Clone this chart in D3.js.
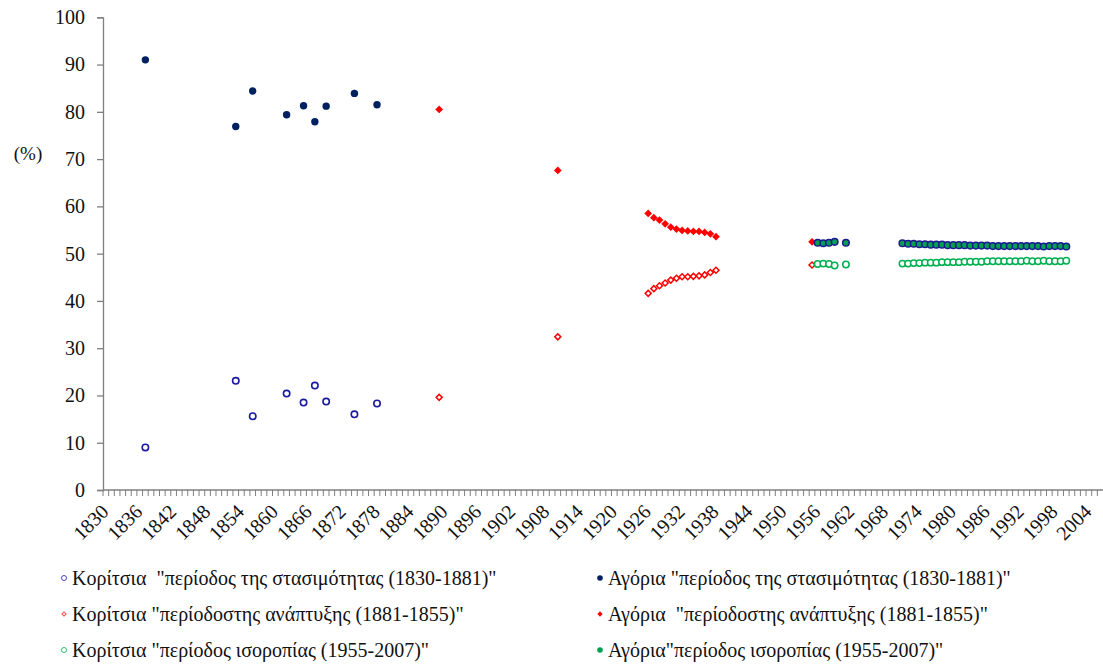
<!DOCTYPE html>
<html>
<head>
<meta charset="utf-8">
<script src="https://cdn.jsdelivr.net/npm/d3@7"></script>
</head>
<body style="margin:0;padding:0;background:#fff;overflow:hidden">
<svg id="chart" width="1103" height="670" style="display:block"></svg>
<script>
// ---------- data ----------
const stasisYears = [1837, 1853, 1856, 1862, 1865, 1867, 1869, 1874, 1878];
const stasisBoys  = [91.0, 76.9, 84.4, 79.4, 81.3, 77.9, 81.2, 83.9, 81.5];
const stasisGirls = [9.0, 23.1, 15.6, 20.4, 18.5, 22.1, 18.7, 16.0, 18.3];

const devYears = [1889, 1910, 1926, 1927, 1928, 1929, 1930, 1931, 1932, 1933, 1934, 1935, 1936, 1937, 1938, 1955];
const devBoys  = [80.5, 67.6, 58.5, 57.6, 57.1, 56.3, 55.6, 55.2, 54.9, 54.8, 54.7, 54.7, 54.5, 54.2, 53.6, 52.5];
const devGirls = [19.6, 32.4, 41.6, 42.6, 43.2, 43.8, 44.4, 44.8, 45.1, 45.1, 45.2, 45.3, 45.5, 46.0, 46.5, 47.6];

const balYears = [1956, 1957, 1958, 1959, 1961,
  1971, 1972, 1973, 1974, 1975, 1976, 1977, 1978, 1979, 1980,
  1981, 1982, 1983, 1984, 1985, 1986, 1987, 1988, 1989, 1990,
  1991, 1992, 1993, 1994, 1995, 1996, 1997, 1998, 1999, 2000];
const balBoys = [52.3, 52.2, 52.3, 52.5, 52.3,
  52.2, 52.1, 52.1, 52.0, 52.0, 51.9, 51.9, 51.9, 51.8, 51.8,
  51.8, 51.8, 51.7, 51.7, 51.7, 51.7, 51.6, 51.6, 51.6, 51.6,
  51.6, 51.6, 51.6, 51.6, 51.6, 51.5, 51.6, 51.6, 51.6, 51.5];
const balGirls = [47.8, 47.9, 47.8, 47.5, 47.7,
  47.9, 47.9, 48.0, 48.0, 48.1, 48.1, 48.1, 48.2, 48.2, 48.2,
  48.2, 48.3, 48.3, 48.3, 48.3, 48.4, 48.4, 48.4, 48.4, 48.4,
  48.4, 48.4, 48.5, 48.4, 48.4, 48.5, 48.4, 48.4, 48.4, 48.5];

const yTicks = [0, 10, 20, 30, 40, 50, 60, 70, 80, 90, 100];
const xFirstYear = 1830, xLastYear = 2006, xLabelStep = 6;

const legendLabels = [
  'Κορίτσια  "περίοδος της στασιμότητας (1830-1881)"',
  'Αγόρια "περίοδος της στασιμότητας (1830-1881)"',
  'Κορίτσια "περίοδοστης ανάπτυξης (1881-1855)"',
  'Αγόρια  "περίοδοστης ανάπτυξης (1881-1855)"',
  'Κορίτσια "περίοδος ισοροπίας (1955-2007)"',
  'Αγόρια"περίοδος ισοροπίας (1955-2007)"'
];

// ---------- layout ----------
const FONT_ATTR = "Liberation Serif, Times New Roman, serif";
const FONT = "'Liberation Serif'";
const svg = d3.select("#chart");
const plotLeft = 103, plotRight = 1103, plotTop = 17.3, plotBottom = 490;

const years = d3.range(xFirstYear, xLastYear + 1);
const x = d3.scaleBand().domain(years).range([plotLeft, plotRight]).paddingInner(0).paddingOuter(0);
const xc = yr => x(yr) + x.bandwidth() / 2;
const y = d3.scaleLinear().domain([0, 100]).range([plotBottom, plotTop]);

const axisColor = "#7f7f7f";
function serif(sel, size) {
  return sel.attr("font-family", FONT_ATTR).style("font-family", FONT).attr("font-size", size).attr("fill", "#111");
}

// y axis
const yAxis = d3.axisLeft(y).tickValues(yTicks).tickSize(6).tickPadding(12);
const gy = svg.append("g").attr("transform", `translate(${plotLeft},0)`).call(yAxis);
gy.attr("font-family", FONT_ATTR).attr("font-size", 20);
gy.select(".domain").attr("stroke", axisColor).attr("stroke-width", 1.3);
gy.selectAll(".tick line").attr("stroke", axisColor).attr("stroke-width", 1.3);
serif(gy.selectAll(".tick text"), 20);

serif(svg.append("text").attr("x", 28).attr("y", 160).attr("text-anchor", "middle"), 19).text("(%)");

// x axis: line + minor ticks at category boundaries
const gx = svg.append("g");
gx.append("line").attr("x1", plotLeft).attr("x2", plotRight).attr("y1", plotBottom).attr("y2", plotBottom)
  .attr("stroke", axisColor).attr("stroke-width", 1.3);
gx.selectAll("line.minor").data(years).enter().append("line").attr("class", "minor")
  .attr("x1", d => x(d)).attr("x2", d => x(d))
  .attr("y1", plotBottom).attr("y2", plotBottom + 6)
  .attr("stroke", axisColor).attr("stroke-width", 1);
const labelYears = years.filter(d => (d - xFirstYear) % xLabelStep === 0);
serif(gx.selectAll("text.xl").data(labelYears).enter().append("text").attr("class", "xl")
  .attr("transform", d => `translate(${xc(d) - 1},${plotBottom + 18}) rotate(-45)`)
  .attr("text-anchor", "end").attr("dy", "0.35em"), 20).text(d => d);

// ---------- marks ----------
function zip(ys, vs) { return ys.map((yr, i) => ({ yr, v: vs[i] })); }
const diamond = d3.symbol().type(d3.symbolSquare);

// Stasis girls: hollow blue circles
svg.append("g").selectAll("circle").data(zip(stasisYears, stasisGirls)).enter().append("circle")
  .attr("cx", d => xc(d.yr)).attr("cy", d => y(d.v)).attr("r", 3.2)
  .attr("fill", "#fff").attr("stroke", "#1a1aa0").attr("stroke-width", 1.6);
// Stasis boys: filled navy circles
svg.append("g").selectAll("circle").data(zip(stasisYears, stasisBoys)).enter().append("circle")
  .attr("cx", d => xc(d.yr)).attr("cy", d => y(d.v)).attr("r", 3.7)
  .attr("fill", "#002060");

// Development girls: hollow red diamonds
svg.append("g").selectAll("path").data(zip(devYears, devGirls)).enter().append("path")
  .attr("d", diamond.size(18)())
  .attr("transform", d => `translate(${xc(d.yr)},${y(d.v)}) rotate(45)`)
  .attr("fill", "#fff").attr("stroke", "#ff0000").attr("stroke-width", 1.5);
// Development boys: filled red diamonds
svg.append("g").selectAll("path").data(zip(devYears, devBoys)).enter().append("path")
  .attr("d", diamond.size(30)())
  .attr("transform", d => `translate(${xc(d.yr)},${y(d.v)}) rotate(45)`)
  .attr("fill", "#ff0000");

// Balance girls: hollow green circles
svg.append("g").selectAll("circle").data(zip(balYears, balGirls)).enter().append("circle")
  .attr("cx", d => xc(d.yr)).attr("cy", d => y(d.v)).attr("r", 3.2)
  .attr("fill", "#fff").attr("stroke", "#00b050").attr("stroke-width", 1.5);
// Balance boys: green filled, navy outline
svg.append("g").selectAll("circle").data(zip(balYears, balBoys)).enter().append("circle")
  .attr("cx", d => xc(d.yr)).attr("cy", d => y(d.v)).attr("r", 3.3)
  .attr("fill", "#00a050").attr("stroke", "#1a1a90").attr("stroke-width", 1.5);

// ---------- legend ----------
const legendRows = [583, 619, 655];
const legendCols = [64, 600];
const legendItems = [
  { kind: "circleHollow", color: "#4a4acc" },
  { kind: "circleFill", color: "#002060" },
  { kind: "diamondHollow", color: "#ff4040" },
  { kind: "diamondFill", color: "#ff0000" },
  { kind: "circleHollow", color: "#30c070" },
  { kind: "circleFill", color: "#00a050" }
];
const lg = svg.append("g");
legendItems.forEach((it, i) => {
  const cx = legendCols[i % 2], cy = legendRows[Math.floor(i / 2)];
  const g = lg.append("g");
  if (it.kind === "circleHollow") {
    g.append("circle").attr("cx", cx).attr("cy", cy - 5).attr("r", 2.5)
      .attr("fill", "#fff").attr("stroke", it.color).attr("stroke-width", 1);
  } else if (it.kind === "circleFill") {
    g.append("circle").attr("cx", cx).attr("cy", cy - 5).attr("r", 2.8).attr("fill", it.color);
  } else if (it.kind === "diamondHollow") {
    g.append("path").attr("d", diamond.size(9)())
      .attr("transform", `translate(${cx},${cy - 5}) rotate(45)`)
      .attr("fill", "#fff").attr("stroke", it.color).attr("stroke-width", 1);
  } else {
    g.append("path").attr("d", diamond.size(14)())
      .attr("transform", `translate(${cx},${cy - 5}) rotate(45)`)
      .attr("fill", it.color);
  }
  serif(g.append("text").attr("x", cx + 8).attr("y", cy + 2).attr("xml:space", "preserve"), 20)
    .text(legendLabels[i]);
});
</script>
</body>
</html>
